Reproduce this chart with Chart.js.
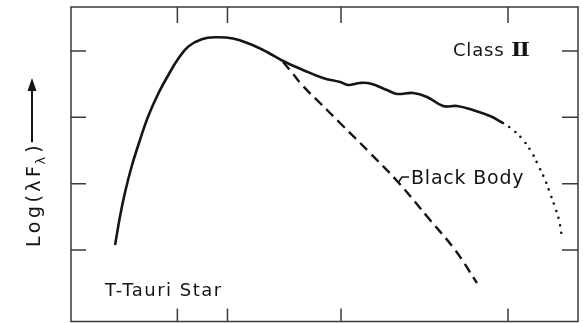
<!DOCTYPE html>
<html>
<head>
<meta charset="utf-8">
<script src="https://cdn.jsdelivr.net/npm/chart.js@4.4.1/dist/chart.umd.min.js"></script>
<style>
  html, body { margin: 0; padding: 0; background: #fff; }
  #wrap { width: 583px; height: 323px; position: relative; }
</style>
</head>
<body>
<div id="wrap"><canvas id="sed"></canvas></div>
<script>
// x = log(lambda), y = log(lambda F_lambda)
const sedX = [-0.353, -0.323, -0.293, -0.253, -0.204, -0.154, -0.094, -0.034, 0.026, 0.086, 0.166, 0.246,
              0.353, 0.455, 0.557, 0.653, 0.772, 0.892, 0.994, 1.042, 1.114, 1.174, 1.275, 1.335, 1.431, 1.515,
              1.611, 1.695, 1.790, 1.892, 1.970];
const sedY = [1.075, 1.512, 1.874, 2.266, 2.658, 3.020, 3.359, 3.638, 3.887, 4.068, 4.176, 4.206,
              4.188, 4.105, 3.985, 3.849, 3.714, 3.593, 3.533, 3.488, 3.518, 3.510, 3.412, 3.352, 3.367, 3.307,
              3.171, 3.171, 3.110, 3.020, 2.914];

// dotted far-infrared fall-off
const farX = [1.970, 2.030, 2.090, 2.144, 2.180, 2.222, 2.251, 2.281, 2.305, 2.323];
const farY = [2.914, 2.809, 2.658, 2.462, 2.281, 2.055, 1.859, 1.648, 1.452, 1.196];

// dashed black body
const bbX = [0.653, 0.713, 0.772, 0.874, 0.994, 1.174, 1.341, 1.533, 1.683, 1.814];
const bbY = [3.834, 3.653, 3.472, 3.216, 2.914, 2.462, 2.025, 1.452, 1.000, 0.502];

const xTicks = [0.02, 0.32, 1, 2];
const yTicks = [1, 2, 3, 4];

const ink = '#151515';
const frameColor = '#3a3a3a';

function toPoints(xs, ys) {
    return xs.map((x, i) => ({ x: x, y: ys[i] }));
}

// frame + inward ticks on all four sides
const framePlugin = {
    id: 'frame',
    beforeDatasetsDraw(chart) {
        const { ctx, chartArea: a, scales } = chart;
        ctx.save();
        ctx.strokeStyle = frameColor;
        ctx.lineWidth = 1.5;
        ctx.strokeRect(a.left, a.top, a.right - a.left, a.bottom - a.top);
        ctx.beginPath();
        xTicks.forEach(v => {
            const px = scales.x.getPixelForValue(v);
            ctx.moveTo(px, a.top); ctx.lineTo(px, a.top + 16);
            ctx.moveTo(px, a.bottom); ctx.lineTo(px, a.bottom - 13);
        });
        yTicks.forEach(v => {
            const py = scales.y.getPixelForValue(v);
            ctx.moveTo(a.left, py); ctx.lineTo(a.left + 15, py);
            ctx.moveTo(a.right, py); ctx.lineTo(a.right - 16, py);
        });
        ctx.stroke();
        ctx.restore();
    }
};

// annotations and rotated y title
const labelPlugin = {
    id: 'labels',
    afterDraw(chart) {
        const ctx = chart.ctx;
        ctx.save();
        ctx.fillStyle = ink;
        ctx.strokeStyle = ink;
        ctx.textBaseline = 'alphabetic';

        ctx.font = '18px "DejaVu Sans"';
        ctx.letterSpacing = '1.5px';
        ctx.fillText('T-Tauri Star', 105, 296);

        ctx.letterSpacing = '0.8px';
        ctx.fillText('Class', 453, 56);

        // roman two, serif and slightly widened
        ctx.save();
        ctx.translate(511, 56);
        ctx.scale(1.35, 1);
        ctx.font = 'bold 20px "Liberation Serif"';
        ctx.letterSpacing = '-1.5px';
        ctx.fillText('II', 0, 0);
        ctx.restore();

        ctx.font = '19px "DejaVu Sans"';
        ctx.letterSpacing = '0.8px';
        ctx.fillText('Black Body', 411, 184);
        ctx.lineWidth = 1.6;
        ctx.beginPath();
        ctx.moveTo(398, 183); ctx.lineTo(402, 177); ctx.lineTo(409, 177);
        ctx.stroke();

        // y title: Log(λF_λ) with arrow, reading upward
        ctx.translate(40, 247);
        ctx.rotate(-Math.PI / 2);
        ctx.font = '19px "DejaVu Sans"';
        ctx.letterSpacing = '3.5px';
        let x = 0;
        ctx.fillText('Log(\u03bbF', x, 0);
        x += ctx.measureText('Log(\u03bbF').width;
        ctx.font = '13px "DejaVu Sans"';
        ctx.letterSpacing = '0px';
        ctx.fillText('\u03bb', x - 2, 5);
        x += ctx.measureText('\u03bb').width + 2;
        ctx.font = '19px "DejaVu Sans"';
        ctx.fillText(')', x, 0);
        x += ctx.measureText(')').width + 3;
        ctx.lineWidth = 2;
        ctx.beginPath();
        ctx.moveTo(x, -8); ctx.lineTo(160, -8);
        ctx.stroke();
        ctx.beginPath();
        ctx.moveTo(169, -8); ctx.lineTo(156, -12.5); ctx.lineTo(156, -3.5);
        ctx.closePath();
        ctx.fill();
        ctx.restore();
    }
};

new Chart(document.getElementById('sed'), {
    type: 'line',
    data: {
        datasets: [
            {
                label: 'T-Tauri SED',
                data: toPoints(sedX, sedY),
                borderColor: ink,
                borderWidth: 2.6,
                pointRadius: 0,
                tension: 0.4,
                fill: false
            },
            {
                label: 'Far-IR',
                data: toPoints(farX, farY),
                borderColor: ink,
                borderWidth: 2.6,
                borderDash: [0, 7.5],
                borderCapStyle: 'round',
                pointRadius: 0,
                tension: 0.4,
                fill: false
            },
            {
                label: 'Black Body',
                data: toPoints(bbX, bbY),
                borderColor: ink,
                borderWidth: 2.4,
                borderDash: [10, 6],
                pointRadius: 0,
                tension: 0.4,
                fill: false
            }
        ]
    },
    options: {
        responsive: true,
        maintainAspectRatio: false,
        animation: false,
        layout: { padding: { left: 71, right: 5, top: 7, bottom: 1.5 } },
        plugins: {
            legend: { display: false },
            tooltip: { enabled: false }
        },
        scales: {
            x: { type: 'linear', display: false, min: -0.617, max: 2.419 },
            y: { type: 'linear', display: false, min: -0.078, max: 4.663 }
        }
    },
    plugins: [framePlugin, labelPlugin]
});
</script>
</body>
</html>
